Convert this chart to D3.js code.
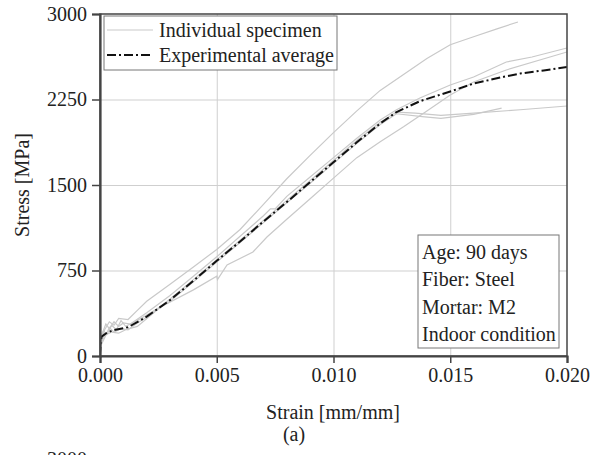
<!DOCTYPE html>
<html>
<head>
<meta charset="utf-8">
<script src="https://cdn.jsdelivr.net/npm/d3@7"></script>
<style>
  body { margin: 0; background: #fff; }
  svg text { font-family: "Liberation Serif", "Times New Roman", serif; font-size: 20px; fill: #222; }
  .grid line { stroke: #cfcfcf; stroke-width: 1; }
  .grid path { display: none; }
</style>
</head>
<body>
<svg width="591" height="455"></svg>
<script>
// ticks
xTicks = [0, 0.005, 0.010, 0.015, 0.020];
yTicks = [0, 750, 1500, 2250, 3000];

// individual specimens [strain, stress]
spec1 = [[0,0],[0.00005,130],[0.0002,230],[0.0004,300],[0.0006,270],[0.0008,330],[0.0012,320],[0.0016,400],[0.002,480],[0.003,630],[0.004,780],[0.005,935],[0.006,1110],[0.007,1330],[0.008,1555],[0.009,1760],[0.010,1960],[0.011,2150],[0.012,2330],[0.013,2470],[0.014,2610],[0.015,2730],[0.016,2800],[0.017,2870],[0.0179,2930]];
spec2 = [[0,0],[0.00005,110],[0.0002,180],[0.0005,210],[0.0008,200],[0.0011,230],[0.0016,260],[0.0026,430],[0.004,580],[0.005,700],[0.00503,670],[0.00544,798],[0.00655,912],[0.00715,1044],[0.008,1200],[0.009,1380],[0.010,1560],[0.011,1740],[0.012,1880],[0.013,2010],[0.014,2150],[0.015,2290],[0.016,2404],[0.0174,2509],[0.020,2667]];
spec3 = [[0,0],[0.00004,150],[0.0001,200],[0.00025,280],[0.0004,240],[0.0006,300],[0.0008,260],[0.001,290],[0.0013,280],[0.002,380],[0.003,530],[0.004,700],[0.005,870],[0.006,1050],[0.007,1230],[0.0073,1290],[0.0075,1290],[0.008,1400],[0.009,1570],[0.010,1740],[0.011,1910],[0.012,2070],[0.0127,2160],[0.0137,2263],[0.015,2377],[0.016,2447],[0.0174,2579],[0.0185,2623],[0.020,2702]];
spec4 = [[0,0],[0.00003,170],[0.00015,220],[0.0003,190],[0.0005,270],[0.0007,230],[0.0009,310],[0.0011,260],[0.0015,300],[0.002,360],[0.003,480],[0.004,650],[0.005,825],[0.006,995],[0.007,1170],[0.008,1345],[0.009,1515],[0.010,1690],[0.011,1865],[0.012,2030],[0.0127,2125],[0.0138,2100],[0.0146,2085],[0.016,2120],[0.0172,2175]];
spec5 = [[0,0],[0.00006,100],[0.0002,160],[0.0004,250],[0.0006,210],[0.0009,240],[0.0012,230],[0.0016,290],[0.002,340],[0.003,500],[0.004,670],[0.005,845],[0.006,1015],[0.007,1190],[0.008,1365],[0.009,1540],[0.010,1715],[0.011,1890],[0.012,2050],[0.0127,2140],[0.0135,2130],[0.0146,2110],[0.016,2130],[0.018,2160],[0.020,2193]];
specimens = [spec1, spec2, spec3, spec4, spec5];

// experimental average
average = [[0,0],[0.00002,100],[0.00007,170],[0.0003,205],[0.0006,228],[0.0012,252],[0.002,345],[0.003,490],[0.004,660],[0.005,835],[0.006,1005],[0.007,1180],[0.008,1350],[0.009,1525],[0.010,1700],[0.011,1875],[0.012,2040],[0.0127,2140],[0.0137,2235],[0.015,2320],[0.016,2390],[0.0173,2450],[0.018,2478],[0.019,2505],[0.020,2535]];

legendLabels = ["Individual specimen", "Experimental average"];
infoLines = ["Age: 90 days", "Fiber: Steel", "Mortar: M2", "Indoor condition"];

svg = d3.select('svg');

left = 100; right = 567; top_ = 14; bottom = 356;
width = right - left;
height = bottom - top_;

xScale = d3.scaleLinear().domain([0, 0.02]).range([0, width]);
yScale = d3.scaleLinear().domain([0, 3000]).range([height, 0]);

chart = svg.append('g').attr('transform', `translate(${left}, ${top_})`);

svg.append('defs').append('clipPath').attr('id', 'clip')
    .append('rect').attr('width', width).attr('height', height);

// grid
chart.append('g')
    .attr('class', 'grid')
    .attr('transform', `translate(0, ${height})`)
    .call(d3.axisBottom(xScale).tickValues(xTicks.slice(1, -1)).tickSize(-height).tickFormat(''));
chart.append('g')
    .attr('class', 'grid')
    .call(d3.axisLeft(yScale).tickValues(yTicks.slice(1, -1)).tickSize(-width).tickFormat(''));

line = d3.line().x(d => xScale(d[0])).y(d => yScale(d[1]));

plot = chart.append('g').attr('clip-path', 'url(#clip)');

plot.selectAll('.spec')
    .data(specimens)
    .enter()
    .append('path')
    .attr('class', 'spec')
    .attr('d', line)
    .attr('fill', 'none')
    .attr('stroke', '#c9c9c9')
    .attr('stroke-width', 1.2);

plot.append('path')
    .attr('d', line(average))
    .attr('fill', 'none')
    .attr('stroke', '#111')
    .attr('stroke-width', 2)
    .attr('stroke-dasharray', '9,3,2,3');

// frame top / right
chart.append('rect')
    .attr('width', width).attr('height', height)
    .attr('fill', 'none').attr('stroke', '#444').attr('stroke-width', 1.5);

// axes
xAxis = chart.append('g')
    .attr('transform', `translate(0, ${height})`)
    .call(d3.axisBottom(xScale).tickValues(xTicks).tickSize(7).tickPadding(5).tickFormat(d3.format('.3f')));
yAxis = chart.append('g')
    .call(d3.axisLeft(yScale).tickValues(yTicks).tickSize(8).tickPadding(5).tickFormat(d3.format('d')));

[xAxis, yAxis].forEach(a => {
    a.select('.domain').attr('stroke', '#444').attr('stroke-width', 2.2);
    a.selectAll('.tick line').attr('stroke', '#444').attr('stroke-width', 1.5);
    a.selectAll('.tick text').attr('font-size', 20).attr('font-family', '"Liberation Serif", serif').attr('fill', '#222');
});

// legend
legend = svg.append('g');
legend.append('rect')
    .attr('x', 104).attr('y', 16).attr('width', 233).attr('height', 54)
    .attr('fill', '#fff').attr('stroke', '#777').attr('stroke-width', 1);
legendLabels.forEach((lab, i) => {
    yy = 30 + i * 25;
    legend.append('line')
        .attr('x1', 107).attr('x2', 153).attr('y1', yy).attr('y2', yy)
        .attr('stroke', i == 0 ? '#c9c9c9' : '#111')
        .attr('stroke-width', i == 0 ? 1.2 : 2)
        .attr('stroke-dasharray', i == 0 ? null : '9,3,2,3');
    legend.append('text')
        .attr('x', 159).attr('y', yy + 7)
        .text(lab);
});

// info box
info = svg.append('g');
info.append('rect')
    .attr('x', 418).attr('y', 235).attr('width', 141).attr('height', 113)
    .attr('fill', '#fff').attr('stroke', '#777').attr('stroke-width', 1);
infoLines.forEach((t, i) => {
    info.append('text')
        .attr('x', 422).attr('y', 259 + i * 27.3)
        .text(t);
});

// labels
svg.append('text')
    .attr('x', 333).attr('y', 419)
    .attr('text-anchor', 'middle')
    .text('Strain [mm/mm]');

svg.append('text')
    .attr('transform', 'translate(29, 185) rotate(-90)')
    .attr('text-anchor', 'middle')
    .text('Stress [MPa]');

svg.append('text')
    .attr('x', 294).attr('y', 441)
    .attr('text-anchor', 'middle')
    .text('(a)');

// next panel's top tick, cut by the edge
svg.append('text')
    .attr('x', 87).attr('y', 466)
    .attr('text-anchor', 'end')
    .text('3000');
</script>
</body>
</html>
